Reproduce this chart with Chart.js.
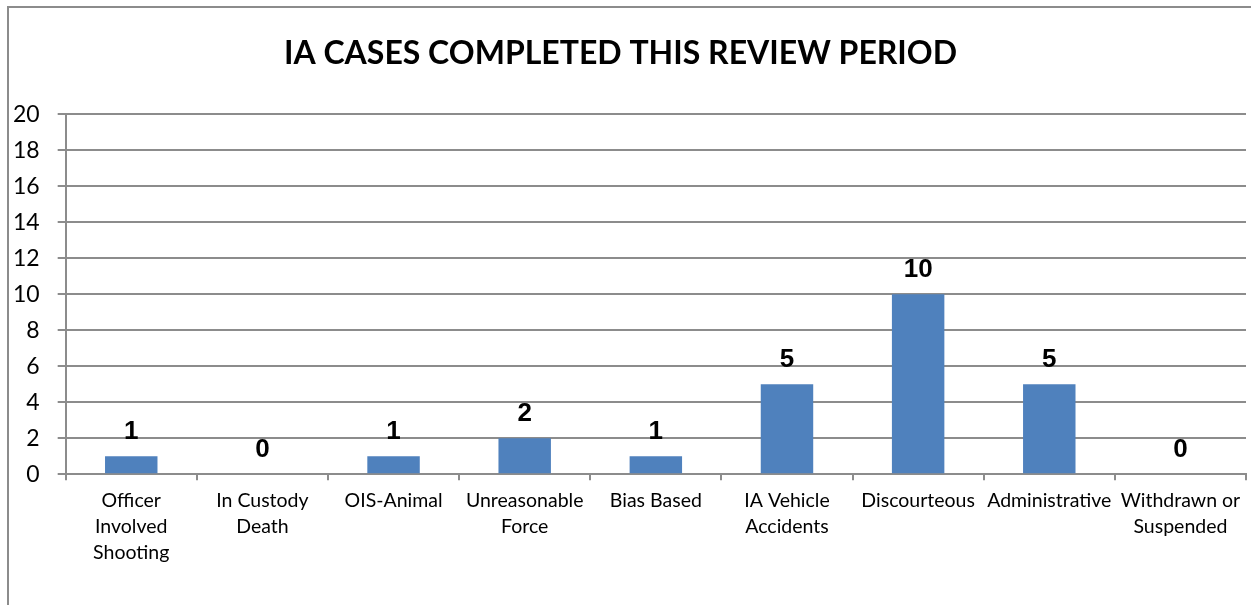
<!DOCTYPE html>
<html>
<head>
<meta charset="utf-8">
<script src="https://cdn.jsdelivr.net/npm/chart.js@4.4.1/dist/chart.umd.min.js"></script>
<style>
    html, body { margin: 0; padding: 0; background: #fff; overflow: hidden; }
    #marco { position: absolute; left: 7px; top: 6px; width: 1300px; height: 700px; border: 2px solid #8c8c8c; }
    #envoltura { position: absolute; left: 0; top: 0; width: 1251px; height: 605px; }
</style>
</head>
<body>
<div id="marco"></div>
<div id="envoltura"><canvas id="graficaCasos"></canvas></div>
<script>
const categorias = [
    ['Officer', 'Involved', 'Shooting'],
    ['In Custody', 'Death'],
    'OIS-Animal',
    ['Unreasonable', 'Force'],
    'Bias Based',
    ['IA Vehicle', 'Accidents'],
    'Discourteous',
    'Administrative',
    ['Withdrawn or', 'Suspended']
];
const casos = [1, 0, 1, 2, 1, 5, 10, 5, 0];
const ticksY = { min: 0, max: 20, paso: 2 };
const titulo = 'IA CASES COMPLETED THIS REVIEW PERIOD';

// etiquetas de valor encima de cada barra
const etiquetasValor = {
    id: 'etiquetasValor',
    afterDatasetsDraw(chart) {
        const ctx = chart.ctx;
        const meta = chart.getDatasetMeta(0);
        ctx.save();
        ctx.font = 'bold 26px "Liberation Sans", Arial, sans-serif';
        ctx.fillStyle = '#000';
        ctx.textAlign = 'center';
        ctx.textBaseline = 'alphabetic';
        meta.data.forEach((barra, i) => {
            ctx.fillText(String(casos[i]), barra.x, barra.y - 17);
        });
        ctx.restore();
    }
};

document.addEventListener('DOMContentLoaded', () => {
    const ctx = document.getElementById('graficaCasos').getContext('2d');
    new Chart(ctx, {
        type: 'bar',
        data: {
            labels: categorias,
            datasets: [{ data: casos, backgroundColor: '#4f81bd', barPercentage: 0.4, categoryPercentage: 1 }]
        },
        options: {
            responsive: true,
            maintainAspectRatio: false,
            animation: false,
            layout: { padding: { left: -5, right: 5, top: 0, bottom: 31 } },
            plugins: {
                legend: { display: false },
                tooltip: { enabled: false },
                title: {
                    display: true,
                    text: titulo,
                    color: '#000',
                    font: { family: 'Lato, "Open Sans", sans-serif', size: 32, weight: 'bold' },
                    padding: { top: 34, bottom: 42 }
                }
            },
            scales: {
                x: {
                    grid: { drawOnChartArea: false, drawTicks: true, tickLength: 6, color: '#8c8c8c', lineWidth: 2 },
                    border: { color: '#8c8c8c', width: 2 },
                    ticks: {
                        color: '#000',
                        autoSkip: false,
                        maxRotation: 0,
                        padding: 8,
                        font: { family: 'Lato, "Open Sans", sans-serif', size: 19.5, lineHeight: 1.33 }
                    }
                },
                y: {
                    min: ticksY.min,
                    max: ticksY.max,
                    grid: { color: '#8c8c8c', lineWidth: 2, tickLength: 8 },
                    border: { color: '#8c8c8c', width: 2 },
                    ticks: {
                        stepSize: ticksY.paso,
                        color: '#000',
                        padding: 18,
                        font: { family: 'Lato, "Open Sans", sans-serif', size: 23 }
                    }
                }
            }
        },
        plugins: [etiquetasValor]
    });
});
</script>
</body>
</html>
